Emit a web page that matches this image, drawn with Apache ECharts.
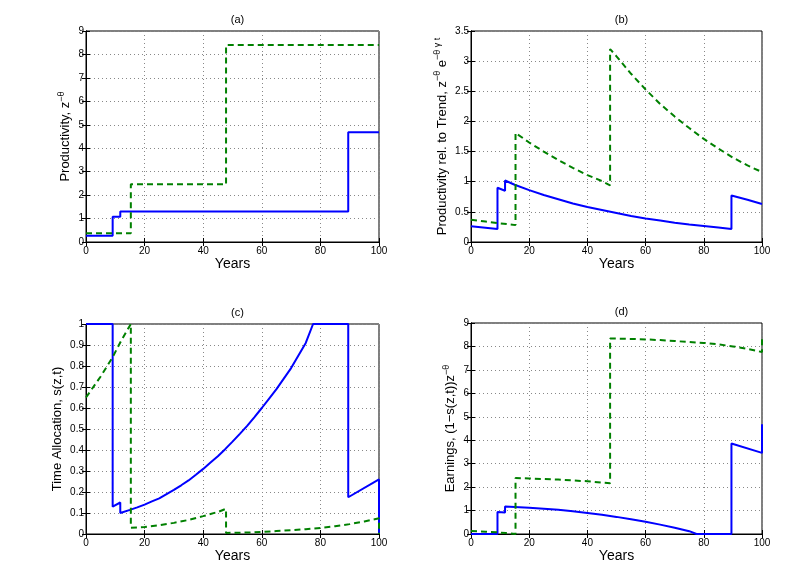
<!DOCTYPE html>
<html><head><meta charset="utf-8">
<script src="https://cdn.jsdelivr.net/npm/echarts@6/dist/echarts.min.js"></script>
<style>html,body{margin:0;padding:0;background:#fff}#c{width:800px;height:583px}</style>
</head><body><div id="c"></div>
<script>
// Panel (a): productivity z^-theta (step functions)
const aBlue = [[0,0.27],[9.1,0.27],[9.1,1.08],[11.7,1.08],[11.7,1.30],[89.5,1.30],[89.5,4.68],[100,4.68]];
const aGreen = [[0,0.37],[15.3,0.37],[15.3,2.46],[47.8,2.46],[47.8,8.40],[100,8.40]];
// Panel (b): productivity relative to trend
const bBlue = [[0,0.26],[9.1,0.215],[9.1,0.90],[11.7,0.85],[11.7,1.02],[15,0.95],[20,0.86],[25,0.78],[30,0.71],[35,0.64],[40,0.58],[45,0.53],[50,0.48],[55,0.43],[60,0.39],[65,0.355],[70,0.32],[75,0.29],[80,0.265],[85,0.24],[89.5,0.215],[89.5,0.77],[95,0.70],[100,0.63]];
const bGreen = [[0,0.37],[5,0.34],[10,0.31],[15.3,0.28],[15.3,1.81],[20,1.65],[25,1.50],[30,1.36],[35,1.23],[40,1.11],[45,1.01],[47.8,0.94],[47.8,3.20],[50,3.08],[55,2.79],[60,2.53],[65,2.29],[70,2.08],[75,1.89],[80,1.71],[85,1.55],[90,1.40],[95,1.27],[100,1.16]];
// Panel (c): time allocation s(z,t)
const cBlue = [[0,1],[9.1,1],[9.1,0.13],[11.7,0.15],[11.7,0.10],[15,0.115],[17.5,0.127],[20,0.14],[22.5,0.155],[25,0.17],[27.5,0.19],[30,0.21],[32.5,0.232],[35,0.255],[37.5,0.282],[40,0.31],[42.5,0.34],[45,0.37],[47.5,0.404],[50,0.44],[52.5,0.477],[55,0.515],[57.5,0.557],[60,0.60],[62.5,0.645],[65,0.69],[67.5,0.74],[70,0.79],[72.5,0.85],[75,0.91],[77.5,1.0],[89.5,1.0],[89.5,0.175],[100,0.26],[100,0]];
const cGreen = [[0,0.65],[5,0.75],[9,0.84],[12,0.92],[15.3,1.0],[15.3,0.03],[20,0.033],[25,0.042],[30,0.053],[35,0.067],[40,0.085],[45,0.105],[47.8,0.12],[47.8,0.005],[55,0.007],[60,0.01],[65,0.014],[70,0.018],[75,0.023],[80,0.029],[85,0.037],[90,0.047],[95,0.06],[100,0.075],[100,0]];
// Panel (d): earnings (1-s(z,t)) z^-theta
const dBlue = [[0,0],[9.1,0],[9.1,0.94],[11.7,0.92],[11.7,1.17],[15,1.15],[20,1.12],[25,1.08],[30,1.03],[35,0.97],[40,0.90],[45,0.82],[50,0.73],[55,0.63],[60,0.52],[65,0.40],[70,0.27],[75,0.12],[77.5,0],[89.5,0],[89.5,3.86],[100,3.46],[100,4.68]];
const dGreen = [[0,0.13],[5,0.10],[9,0.07],[12,0.04],[15.3,0],[15.3,2.39],[20,2.37],[30,2.32],[40,2.25],[47.8,2.16],[47.8,8.34],[55,8.32],[60,8.30],[65,8.27],[70,8.23],[75,8.19],[80,8.15],[85,8.09],[90,8.00],[95,7.90],[100,7.76],[100,8.40]];

const titles = ['(a)','(b)','(c)','(d)'];
const yNames = ['Productivity, z{sup|−θ}','Productivity rel. to Trend, z{sup|−θ} e{sup|−θ γ t}','Time Allocation, s(z,t)','Earnings, (1−s(z,t))z{sup|−θ}'];
const yMax = [9, 3.5, 1, 9];
const yStep = [1, 0.5, 0.1, 1];
const xTicksMax = 100, xStep = 20;

const grids = [
  {left:86, top:31, width:293, height:211},
  {left:471, top:31, width:291, height:211},
  {left:86, top:324, width:293, height:210},
  {left:471, top:323, width:291, height:211}
];
const nameGaps = [4, 12, 11, 4];
const FONT = 'Liberation Sans, Arial, sans-serif';
const xAxes = [], yAxes = [], series = [], titleArr = [];
const blues = [aBlue,bBlue,cBlue,dBlue], greens = [aGreen,bGreen,cGreen,dGreen];
grids.forEach((g,i)=>{
  g.show = true; g.borderColor = '#000'; g.borderWidth = 1; g.backgroundColor='#fff';
  titleArr.push({text:titles[i], left:g.left+g.width/2, top:g.top-22, textAlign:'center',
    textStyle:{fontSize:11, fontWeight:'normal', color:'#000', fontFamily:FONT}});
  const line = {show:true, lineStyle:{color:'#000', width:1}};
  xAxes.push({gridIndex:i, type:'value', min:0, max:xTicksMax, interval:xStep,
    name:'Years', nameLocation:'middle', nameGap:15,
    nameTextStyle:{fontSize:14, color:'#000', fontFamily:FONT},
    axisLine:line, axisTick:{inside:true, length:4, lineStyle:{color:'#000'}},
    axisLabel:{fontSize:10, color:'#000', margin:4, fontFamily:FONT},
    splitLine:{show:true, lineStyle:{type:[1,3], color:'#888', width:1}}});
  xAxes.push({gridIndex:i, type:'value', min:0, max:xTicksMax, interval:xStep, position:'top',
    axisLine:line, axisTick:{inside:true, length:4, lineStyle:{color:'#000'}},
    axisLabel:{show:false}, splitLine:{show:false}});
  yAxes.push({gridIndex:i, type:'value', min:0, max:yMax[i], interval:yStep[i],
    name:yNames[i], nameLocation:'middle', nameGap:nameGaps[i], nameRotate:90,
    nameTextStyle:{fontSize:13, color:'#000', fontFamily:FONT, lineHeight:18,
      rich:{sup:{fontSize:9, verticalAlign:'top', lineHeight:18, color:'#000', fontFamily:FONT}}},
    axisLine:line, axisTick:{inside:true, length:4, lineStyle:{color:'#000'}},
    axisLabel:{fontSize:10, color:'#000', margin:2, fontFamily:FONT},
    splitLine:{show:true, lineStyle:{type:[1,3], color:'#888', width:1}}});
  yAxes.push({gridIndex:i, type:'value', min:0, max:yMax[i], interval:yStep[i], position:'right',
    axisLine:line, axisTick:{inside:true, length:4, lineStyle:{color:'#000'}},
    axisLabel:{show:false}, splitLine:{show:false}});
  series.push({type:'line', xAxisIndex:2*i, yAxisIndex:2*i, data:blues[i], showSymbol:false, symbol:'none',
    lineStyle:{color:'#0000ff', width:2}, animation:false, z:3});
  series.push({type:'line', xAxisIndex:2*i, yAxisIndex:2*i, data:greens[i], showSymbol:false, symbol:'none',
    lineStyle:{color:'#008000', width:2, type:[6,4]}, animation:false, z:4});
});
const chart = echarts.init(document.getElementById('c'), null, {renderer:'canvas'});
chart.setOption({animation:false, backgroundColor:'#fff', title:titleArr, grid:grids, xAxis:xAxes, yAxis:yAxes, series:series});
</script></body></html>
